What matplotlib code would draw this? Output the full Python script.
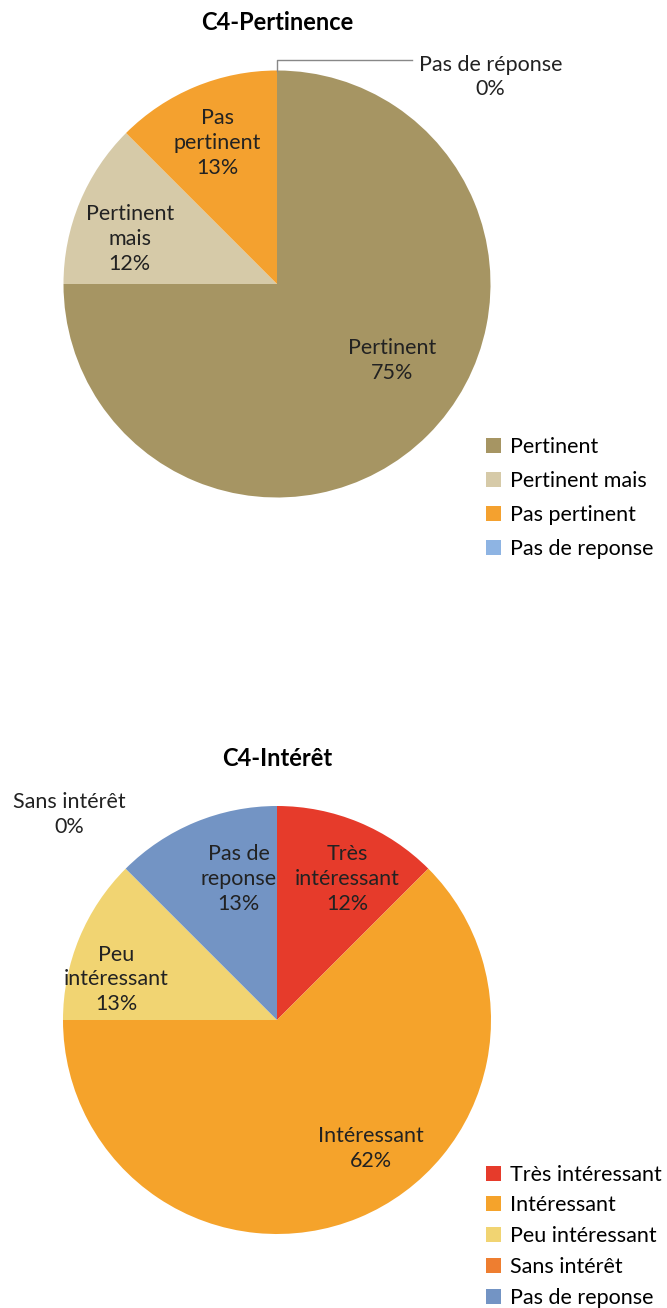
import matplotlib
matplotlib.use('Agg')
import matplotlib.pyplot as plt

plt.rcParams['font.family'] = ['Lato', 'DejaVu Sans']

# ---- data ----
pert_labels = ['Pertinent', 'Pertinent mais', 'Pas pertinent', 'Pas de reponse']
pert_values = [75, 12.5, 12.5, 0]
pert_pct = ['75%', '12%', '13%', '0%']
pert_colors = ['#A69563', '#D6CAA8', '#F4A12F', '#8EB4E3']

int_labels = ['Très intéressant', 'Intéressant', 'Peu intéressant', 'Sans intérêt', 'Pas de reponse']
int_values = [12.5, 62.5, 12.5, 0, 12.5]
int_pct = ['12%', '62%', '13%', '0%', '13%']
int_colors = ['#E63B2B', '#F5A32B', '#F1D472', '#EE7E30', '#7394C4']

W, H = 667, 1308
fig = plt.figure(figsize=(W / 100, H / 100), dpi=100)
fs = 15.5


def pie_axes(cx, cy, r):
    return fig.add_axes([(cx - r) / W, (H - cy - r) / H, 2 * r / W, 2 * r / H])


def draw_pie(ax, values, colors):
    wedges, _ = ax.pie(values, colors=colors, startangle=90, counterclock=False,
                       radius=1, wedgeprops=dict(linewidth=0))
    ax.set_xlim(-1, 1)
    ax.set_ylim(-1, 1)
    ax.set_aspect('equal')
    ax.axis('off')
    return wedges


# ---- chart 1 ----
ax1 = pie_axes(277, 284, 213.5)
w1 = draw_pie(ax1, pert_values, pert_colors)
fig.text(277 / W, 1 - 22 / H, 'C4-Pertinence', ha='center', va='center',
         fontsize=17, fontweight='bold')
label_pos1 = [(0.54, -0.36), (-0.69, 0.21), (-0.28, 0.66), (1.0, 0.97)]
for (x, y), lab, p in zip(label_pos1, ['Pertinent', 'Pertinent\nmais', 'Pas\npertinent', 'Pas de réponse'], pert_pct):
    ax1.text(x, y, f'{lab}\n{p}', ha='center', va='center', fontsize=fs,
             linespacing=1.3, color='#222222')
ax1.plot([0, 0, 0.63], [1.0, 1.05, 1.05], color='#888888', lw=1, clip_on=False)
fig.legend(w1, pert_labels, loc='upper left', bbox_to_anchor=(477 / W, 1 - 428 / H),
           frameon=False, fontsize=fs, handlelength=0.7, handleheight=0.7,
           handletextpad=0.45, labelspacing=0.66, borderaxespad=0)

# ---- chart 2 ----
ax2 = pie_axes(277, 1020, 214)
w2 = draw_pie(ax2, int_values, int_colors)
fig.text(277 / W, 1 - 759 / H, 'C4-Intérêt', ha='center', va='center',
         fontsize=17, fontweight='bold')
label_pos2 = [(0.33, 0.66), (0.44, -0.60), (-0.75, 0.19), (-0.97, 0.96), (-0.18, 0.66)]
text2 = ['Très\nintéressant', 'Intéressant', 'Peu\nintéressant', 'Sans intérêt', 'Pas de\nreponse']
for (x, y), lab, p in zip(label_pos2, text2, int_pct):
    ax2.text(x, y, f'{lab}\n{p}', ha='center', va='center', fontsize=fs,
             linespacing=1.3, color='#222222')
fig.legend(w2, int_labels, loc='upper left', bbox_to_anchor=(477 / W, 1 - 1156 / H),
           frameon=False, fontsize=fs, handlelength=0.7, handleheight=0.7,
           handletextpad=0.45, labelspacing=0.5, borderaxespad=0)

fig.savefig('out.png', dpi=100, facecolor='white')
